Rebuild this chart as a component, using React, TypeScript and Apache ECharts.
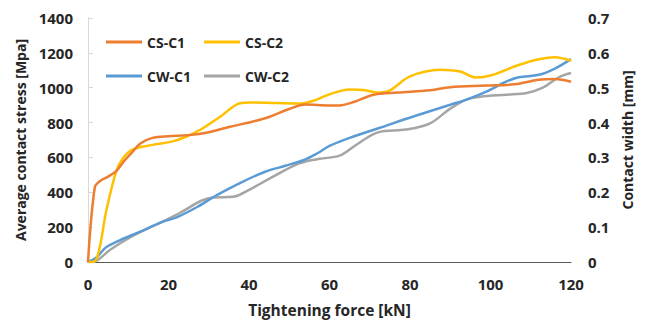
import React, { useEffect, useRef } from "react";
import * as echarts from "echarts";

// Tightening force [kN] and average contact stress [MPa]
const csC1Force = [0, 1.7, 3, 5, 7, 9, 11, 13, 16, 20, 25, 30, 35, 40, 45, 50, 54, 60, 63, 66, 71, 77, 85, 90, 99, 106, 112, 116, 120];
const csC1Stress = [0, 430, 465, 490, 522, 580, 630, 680, 712, 722, 728, 745, 775, 800, 832, 878, 903, 898, 900, 918, 960, 972, 985, 1003, 1012, 1020, 1046, 1050, 1034];

const csC2Force = [0, 2, 4.6, 7, 8.5, 11, 16, 21, 24.5, 28, 33, 37, 40, 47, 53, 56, 60, 65, 68.5, 72, 75, 80, 87.5, 90, 92.5, 96.5, 100, 107, 112, 116, 120];
const csC2Stress = [0, 12, 300, 520, 590, 645, 672, 692, 720, 760, 836, 905, 915, 912, 910, 925, 962, 990, 987, 972, 985, 1065, 1103, 1100, 1093, 1058, 1070, 1130, 1163, 1175, 1155];

// Tightening force [kN] and contact width [mm]
const cwC1Force = [0, 2, 4.5, 8, 13, 18, 22, 27, 32, 38, 44, 49, 53.5, 57, 60, 65, 72.5, 81, 90, 94, 99, 104, 107, 112, 116, 120];
const cwC1Width = [0, 0.012, 0.042, 0.063, 0.087, 0.113, 0.128, 0.157, 0.192, 0.228, 0.259, 0.276, 0.292, 0.312, 0.333, 0.356, 0.385, 0.418, 0.451, 0.466, 0.489, 0.518, 0.53, 0.537, 0.555, 0.582];

const cwC2Force = [0, 2.2, 5.5, 11, 18, 23, 28, 31, 36, 40, 46, 52.5, 57.5, 62.5, 66.5, 72, 79, 85, 90, 94, 97.5, 104, 109, 113, 117, 120];
const cwC2Width = [0, 0.004, 0.035, 0.074, 0.113, 0.142, 0.175, 0.185, 0.187, 0.207, 0.245, 0.283, 0.296, 0.305, 0.335, 0.372, 0.38, 0.398, 0.44, 0.466, 0.474, 0.48, 0.485, 0.5, 0.53, 0.542];

const seriesNames = ["CS-C1", "CS-C2", "CW-C1", "CW-C2"];
const seriesColors = ["#ED7D31", "#FFC000", "#5B9BD5", "#A5A5A5"];

const xTitle = "Tightening force [kN]";
const yLeftTitle = "Average contact stress [Mpa]";
const yRightTitle = "Contact width [mm]";

const pairs = (xs: number[], ys: number[]) => xs.map((x, i) => [x, ys[i]]);

const FONT = "'Open Sans', sans-serif";
const TEXT = "#262626";

export default function App() {
  const ref = useRef<HTMLDivElement>(null);

  useEffect(() => {
    if (!ref.current) return;
    const chart = echarts.init(ref.current, undefined, { renderer: "svg" });

    const data = [
      pairs(csC1Force, csC1Stress),
      pairs(csC2Force, csC2Stress),
      pairs(cwC1Force, cwC1Width),
      pairs(cwC2Force, cwC2Width),
    ];

    // two rows of two legend entries
    const legendPos = [
      { left: 106, top: 35 },
      { left: 204, top: 35 },
      { left: 106, top: 69 },
      { left: 204, top: 69 },
    ];

    const labelStyle = { fontFamily: FONT, fontWeight: "bold", fontSize: 15, color: TEXT };
    const titleStyle = { fontFamily: FONT, fontWeight: "bold", fontSize: 14, color: TEXT };

    chart.setOption({
      animation: false,
      backgroundColor: "#ffffff",
      grid: { left: 88, right: 77, top: 18, bottom: 60, containLabel: false },
      legend: seriesNames.map((name, i) => ({
        data: [name],
        left: legendPos[i].left,
        top: legendPos[i].top,
        padding: 0,
        icon: "rect",
        itemWidth: 36,
        itemHeight: 3,
        textStyle: { fontFamily: FONT, fontWeight: "bold", fontSize: 14, color: TEXT },
      })),
      xAxis: [
        {
          type: "value",
          min: 0,
          max: 120,
          interval: 20,
          name: xTitle,
          nameLocation: "middle",
          nameGap: 40,
          nameTextStyle: { ...titleStyle, fontSize: 15.5 },
          axisLine: { show: true, lineStyle: { color: "#D9D9D9", width: 1 } },
          axisTick: { show: false },
          splitLine: { show: false },
          axisLabel: { margin: 14, ...labelStyle },
        },
        {
          type: "value",
          min: 0,
          max: 120,
          position: "top",
          axisLine: { show: true, lineStyle: { color: "#595959", width: 1 } },
          axisTick: { show: false },
          axisLabel: { show: false },
          splitLine: { show: false },
        },
      ],
      yAxis: [
        {
          type: "value",
          min: 0,
          max: 1400,
          interval: 200,
          name: yLeftTitle,
          nameLocation: "middle",
          nameGap: 58,
          nameTextStyle: titleStyle,
          axisLine: { show: true, lineStyle: { color: "#D9D9D9", width: 1 } },
          axisTick: { show: false },
          splitLine: { show: false },
          axisLabel: { margin: 15, ...labelStyle, formatter: (v: number) => String(v) },
        },
        {
          type: "value",
          min: 0,
          max: 0.7,
          interval: 0.1,
          position: "right",
          name: yRightTitle,
          nameLocation: "middle",
          nameGap: 46,
          nameRotate: 90,
          nameTextStyle: titleStyle,
          axisLine: { show: true, lineStyle: { color: "#D9D9D9", width: 1 } },
          axisTick: { show: true, inside: false, length: 5, lineStyle: { color: "#D9D9D9" } },
          splitLine: { show: false },
          axisLabel: {
            margin: 17,
            ...labelStyle,
            formatter: (v: number) => (v === 0 ? "0" : v.toFixed(1)),
          },
        },
      ],
      series: seriesNames.map((name, i) => ({
        name,
        type: "line",
        xAxisIndex: 0,
        yAxisIndex: i < 2 ? 0 : 1,
        data: data[i],
        smooth: 0.35,
        symbol: "none",
        showSymbol: false,
        lineStyle: { color: seriesColors[i], width: 2.5 },
        itemStyle: { color: seriesColors[i] },
        z: 4 - i,
      })),
    });

    return () => chart.dispose();
  }, []);

  return (
    <div
      ref={ref}
      style={{ position: "absolute", left: 0, top: 0, width: 648, height: 323 }}
    />
  );
}
